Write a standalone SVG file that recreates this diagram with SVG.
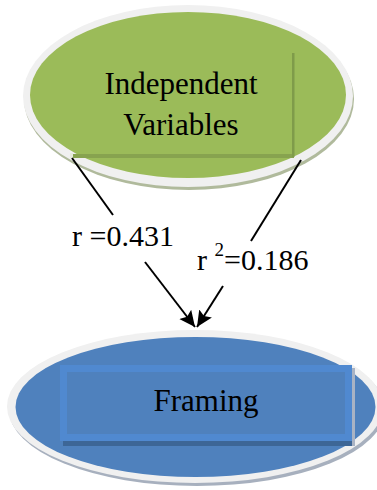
<svg xmlns="http://www.w3.org/2000/svg" width="377" height="490" viewBox="0 0 377 490">
  <defs>
    <style>
      .label { font-family: "Liberation Serif", "Times New Roman", serif; fill: #000; }
      .rim { fill: #f0f0f0; }
      .link { stroke: #000; stroke-width: 2; fill: none; }
    </style>
    <marker id="head" markerUnits="userSpaceOnUse" markerWidth="18" markerHeight="16" refX="16" refY="7.5" orient="auto">
      <path d="M0,0 L16,7.5 L0,15 L3,7.5 z" fill="#000"/>
    </marker>
  </defs>

  <rect width="377" height="490" fill="#fff"/>

  <!-- upper node -->
  <g id="independent-variables">
    <ellipse cx="189" cy="99" rx="165" ry="91" fill="#b0ba9c"/>
    <ellipse class="rim" cx="188" cy="96" rx="165" ry="91"/>
    <ellipse cx="188" cy="95" rx="158" ry="83" fill="#9bbb59"/>
    <!-- bevelled label box edges -->
    <rect x="72" y="154" width="222" height="4" fill="#87a34f"/>
    <rect x="292" y="53" width="2.5" height="104" fill="#7f9b4a"/>
    <rect x="70" y="153" width="3" height="5" fill="#e6ebdc"/>
    <text class="label" x="181" y="94" font-size="31" text-anchor="middle">Independent</text>
    <text class="label" x="181" y="135" font-size="31" text-anchor="middle">Variables</text>
  </g>

  <!-- lower node -->
  <g id="framing">
    <ellipse cx="197" cy="409.5" rx="188" ry="76.5" fill="#a7b0be"/>
    <ellipse class="rim" cx="195" cy="406.5" rx="188" ry="76.5"/>
    <ellipse cx="195.5" cy="407" rx="180" ry="70" fill="#4f81bd"/>
    <rect x="63" y="441" width="292" height="5" fill="#3d6696"/>
    <rect x="352" y="368" width="3" height="78" fill="#a9b3c4"/>
    <rect x="63.5" y="368.5" width="285" height="69" fill="#4f81bd" stroke="#5089d0" stroke-width="7"/>
    <text class="label" x="206" y="411" font-size="31" text-anchor="middle">Framing</text>
  </g>

  <!-- connectors -->
  <g id="connectors">
    <line class="link" x1="72" y1="158" x2="113" y2="215"/>
    <line class="link" x1="301" y1="160" x2="251" y2="241"/>
    <line class="link" x1="145" y1="262" x2="195" y2="327" marker-end="url(#head)"/>
    <line class="link" x1="223" y1="286" x2="197" y2="327" marker-end="url(#head)"/>
    <text class="label" x="72" y="246" font-size="30">r =0.431</text>
    <text class="label" x="197" y="270" font-size="30">r <tspan font-size="19" dy="-14">2</tspan><tspan dy="14">=0.186</tspan></text>
  </g>
</svg>
